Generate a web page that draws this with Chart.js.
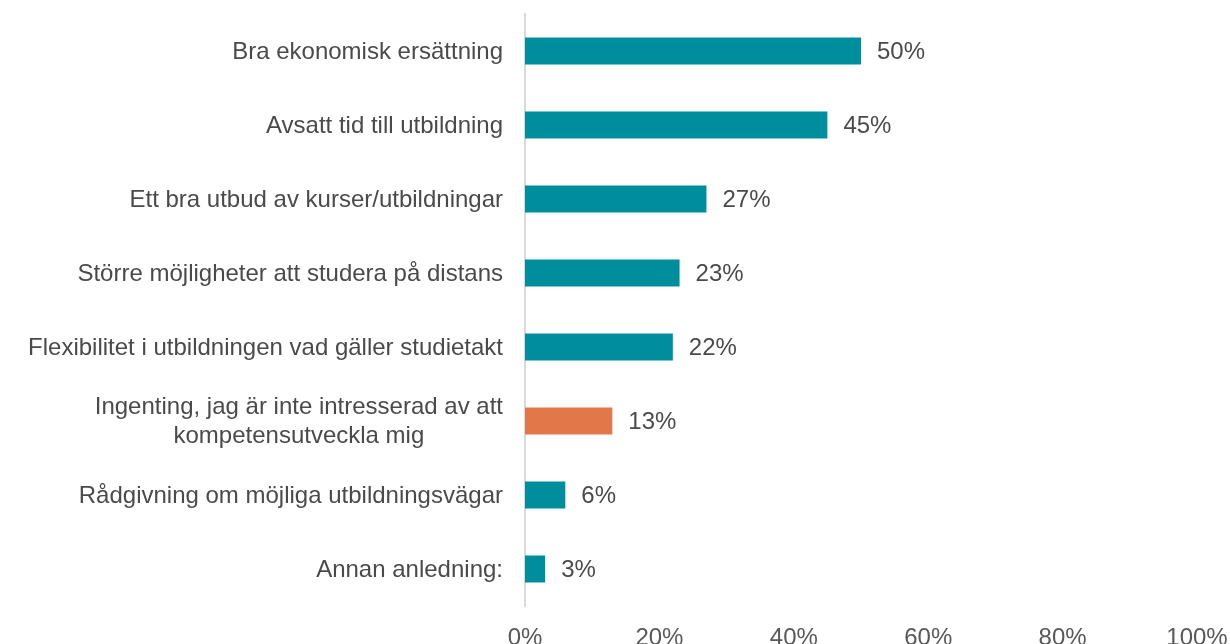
<!DOCTYPE html>
<html>
<head>
<meta charset="utf-8">
<script src="https://cdn.jsdelivr.net/npm/chart.js@4"></script>
<style>
  body { margin: 0; background: #fff; }
  #wrap { width: 1230px; height: 644px; position: relative; }
</style>
</head>
<body>
<div id="wrap"><canvas id="myChart"></canvas></div>
<script>
// data
const categories = [
  "Bra ekonomisk ersättning",
  "Avsatt tid till utbildning",
  "Ett bra utbud av kurser/utbildningar",
  "Större möjligheter att studera på distans",
  "Flexibilitet i utbildningen vad gäller studietakt",
  ["Ingenting, jag är inte intresserad av att", "kompetensutveckla mig"],
  "Rådgivning om möjliga utbildningsvägar",
  "Annan anledning:"
];
const values = [50, 45, 27, 23, 22, 13, 6, 3];
const xTicks = [0, 20, 40, 60, 80, 100];
const highlightIndex = 5;

const FONT = "'Liberation Sans', Arial, sans-serif";
const TEAL = "#008E9F";
const ORANGE = "#E2774A";
const TEXT = "#4A4A4A";

// category labels: right-aligned block, lines centered inside block
const yLabelPlugin = {
  id: "yLabels",
  afterDraw(chart) {
    const ctx = chart.ctx;
    const y = chart.scales.y;
    const xRight = chart.chartArea.left - 22;
    ctx.save();
    ctx.font = "24px " + FONT;
    ctx.fillStyle = TEXT;
    ctx.textBaseline = "middle";
    ctx.textAlign = "center";
    categories.forEach((label, i) => {
      const lines = Array.isArray(label) ? label : [label];
      const w = Math.max(...lines.map((l) => ctx.measureText(l).width));
      const cy = y.getPixelForTick(i) + 1;
      const lh = 29;
      lines.forEach((l, j) => {
        const ly = cy + (j - (lines.length - 1) / 2) * lh;
        ctx.fillText(l, xRight - w / 2, ly);
      });
    });
    ctx.restore();
  },
};

// value labels after bar end
const valueLabelPlugin = {
  id: "valueLabels",
  afterDatasetsDraw(chart) {
    const ctx = chart.ctx;
    const meta = chart.getDatasetMeta(0);
    ctx.save();
    ctx.font = "24px " + FONT;
    ctx.fillStyle = TEXT;
    ctx.textAlign = "left";
    ctx.textBaseline = "middle";
    meta.data.forEach((bar, i) => {
      ctx.fillText(values[i] + "%", bar.x + 16, bar.y + 1);
    });
    ctx.restore();
  },
};

const ctx = document.getElementById("myChart").getContext("2d");
const myChart = new Chart(ctx, {
  type: "bar",
  data: {
    labels: categories,
    datasets: [
      {
        data: values,
        backgroundColor: (c) => (c.dataIndex === highlightIndex ? ORANGE : TEAL),
        barPercentage: 0.365,
        categoryPercentage: 1,
      },
    ],
  },
  options: {
    indexAxis: "y",
    responsive: true,
    maintainAspectRatio: false,
    animation: false,
    layout: { padding: { top: 14, right: 33, bottom: 0, left: 0 } },
    plugins: {
      legend: { display: false },
      tooltip: { enabled: false },
    },
    scales: {
      x: {
        min: 0,
        max: 100,
        afterBuildTicks: (s) => {
          s.ticks = xTicks.map((v) => ({ value: v }));
        },
        afterFit: (s) => {
          s.height = 38;
          s.paddingLeft = 0;
          s.paddingRight = 0;
        },
        grid: { display: false },
        border: { display: false },
        ticks: {
          padding: 10,
          color: "#595959",
          font: { size: 24, family: FONT },
          callback: (v) => v + "%",
        },
      },
      y: {
        afterFit: (s) => {
          s.width = 525;
        },
        grid: { display: false },
        border: { display: true, color: "#D9D9D9", width: 2 },
        ticks: { display: false },
      },
    },
  },
  plugins: [yLabelPlugin, valueLabelPlugin],
});
</script>
</body>
</html>
